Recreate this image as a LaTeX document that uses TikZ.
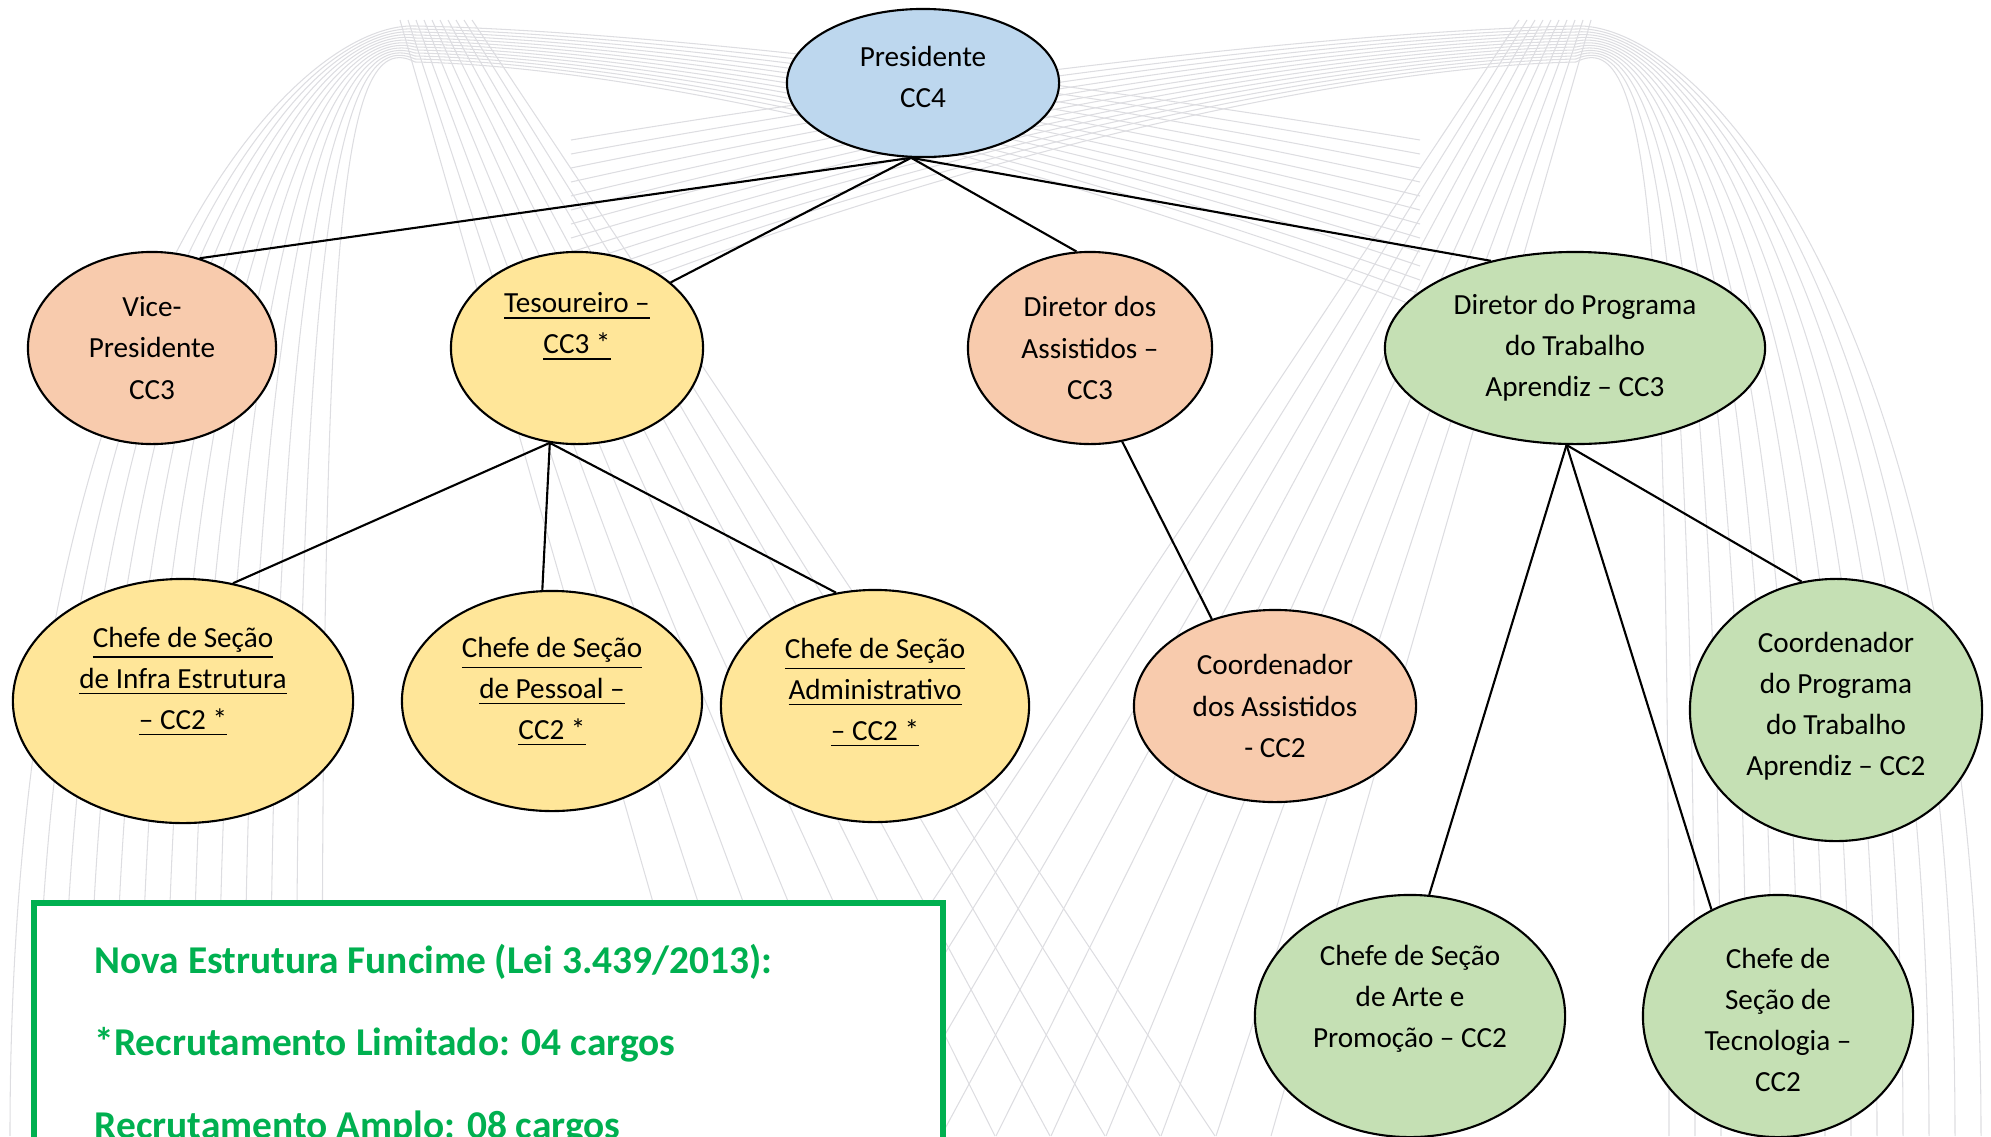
\documentclass[tikz,border=0pt]{standalone}
\usepackage{fontspec}
\setmainfont{Carlito}
\usetikzlibrary{shapes.geometric}
\definecolor{azul}{HTML}{BDD7EE}
\definecolor{pessego}{HTML}{F8CBAD}
\definecolor{amarelo}{HTML}{FFE699}
\definecolor{verde}{HTML}{C5E0B4}
\definecolor{verdenota}{HTML}{00B050}
\definecolor{fundo}{HTML}{DDDDE1}
\begin{document}
\begin{tikzpicture}[x=0.01cm,y=-0.01cm,
    cargo/.style={ellipse,draw,line width=0.6pt,inner sep=0pt},
    rotulo/.style={align=center,font=\fontsize{8.3}{11.7}\selectfont},
    liga/.style={line width=0.6pt},
    fio/.style={draw=fundo,line width=0.3pt},
    nota/.style={anchor=base west,inner sep=0pt,text=verdenota,
                 font=\fontsize{11.2}{13}\selectfont\bfseries}]
\useasboundingbox (0,0) rectangle (1991,1136);
% fundo
\foreach \s/\o in {1/0,-1/1991}{
    \foreach \i in {0,...,12}{
        \draw[fio] ({\o+\s*(10+26*\i)},1136) .. controls ({\o+\s*(10+26*\i)},{320-6*\i}) and ({\o+\s*(290+4*\i)},22) .. ({\o+\s*415},{26+3*\i})
                   .. controls ({\o+\s*(620)},{30+3*\i}) and ({\o+\s*1000},{70+6*\i}) .. ({\o+\s*1420},{140+14*\i});
    }
    \foreach \i in {0,...,9}{
        \draw[fio] ({\o+\s*(400+8*\i)},20) -- ({\o+\s*(720+55*\i)},1136);
    }
}
% cargos
\node[cargo,fill=azul,minimum width=2.72cm,minimum height=1.48cm,
      label={[rotulo,yshift=0.06cm]center:Presidente\\CC4}] (pres) at (923,83) {};
\node[cargo,fill=pessego,minimum width=2.48cm,minimum height=1.92cm,
      label={[rotulo]center:Vice-\\Presidente\\CC3}] (vice) at (152,348) {};
\node[cargo,fill=amarelo,minimum width=2.52cm,minimum height=1.92cm,
      label={[rotulo,yshift=0.21cm]center:\underline{Tesoureiro –}\\\underline{CC3 *}}] (tes) at (577,348) {};
\node[cargo,fill=pessego,minimum width=2.44cm,minimum height=1.92cm,
      label={[rotulo]center:Diretor dos\\Assistidos –\\CC3}] (dira) at (1090,348) {};
\node[cargo,fill=verde,minimum width=3.80cm,minimum height=1.92cm,
      label={[rotulo]center:Diretor do Programa\\do Trabalho\\Aprendiz – CC3}] (dirp) at (1575,348) {};
\node[cargo,fill=amarelo,minimum width=3.40cm,minimum height=2.44cm,
      label={[rotulo,yshift=0.19cm]center:\underline{Chefe de Seção}\\\underline{de Infra Estrutura}\\\underline{– CC2 *}}] (infra) at (183,701) {};
\node[cargo,fill=amarelo,minimum width=3.00cm,minimum height=2.20cm,
      label={[rotulo,yshift=0.09cm]center:\underline{Chefe de Seção}\\\underline{de Pessoal –}\\\underline{CC2 *}}] (pess) at (552,701) {};
\node[cargo,fill=amarelo,minimum width=3.08cm,minimum height=2.32cm,
      label={[rotulo,yshift=0.13cm]center:\underline{Chefe de Seção}\\\underline{Administrativo}\\\underline{– CC2 *}}] (adm) at (875,706) {};
\node[cargo,fill=pessego,minimum width=2.82cm,minimum height=1.92cm,
      label={[rotulo]center:Coordenador\\dos Assistidos\\- CC2}] (coorda) at (1275,706) {};
\node[cargo,fill=verde,minimum width=2.92cm,minimum height=2.62cm,
      label={[rotulo,yshift=0.04cm]center:Coordenador\\do Programa\\do Trabalho\\Aprendiz – CC2}] (coordp) at (1836,710) {};
\node[cargo,fill=verde,minimum width=3.10cm,minimum height=2.42cm,
      label={[rotulo,yshift=0.17cm]center:Chefe de Seção\\de Arte e\\Promoção – CC2}] (arte) at (1410,1016) {};
\node[cargo,fill=verde,minimum width=2.70cm,minimum height=2.42cm,
      label={[rotulo,yshift=-0.04cm]center:Chefe de\\Seção de\\Tecnologia –\\CC2}] (tec) at (1778,1016) {};
% ligacoes
\foreach \n/\a in {vice/62,tes/35,dira/98,dirp/134}
    \draw[liga] (pres.-99) -- (\n.\a);
\foreach \n/\a in {infra/67,pess/95,adm/109}
    \draw[liga] (tes.-106) -- (\n.\a);
\draw[liga] (dira.-71) -- (coorda.126);
\foreach \n/\a in {arte/81,tec/122,coordp/105}
    \draw[liga] (dirp.-95) -- (\n.\a);
% quadro
\draw[draw=verdenota,line width=1.7pt,fill=white] (34,903) rectangle (943,1170);
\node[nota] (nota1) at (94,973) {Nova Estrutura Funcime (Lei 3.439/2013):};
\node[nota] (nota2) at (94,1055) {*Recrutamento Limitado: 04 cargos};
\node[nota] (nota3) at (94,1138) {Recrutamento Amplo: 08 cargos};
\end{tikzpicture}
\end{document}
